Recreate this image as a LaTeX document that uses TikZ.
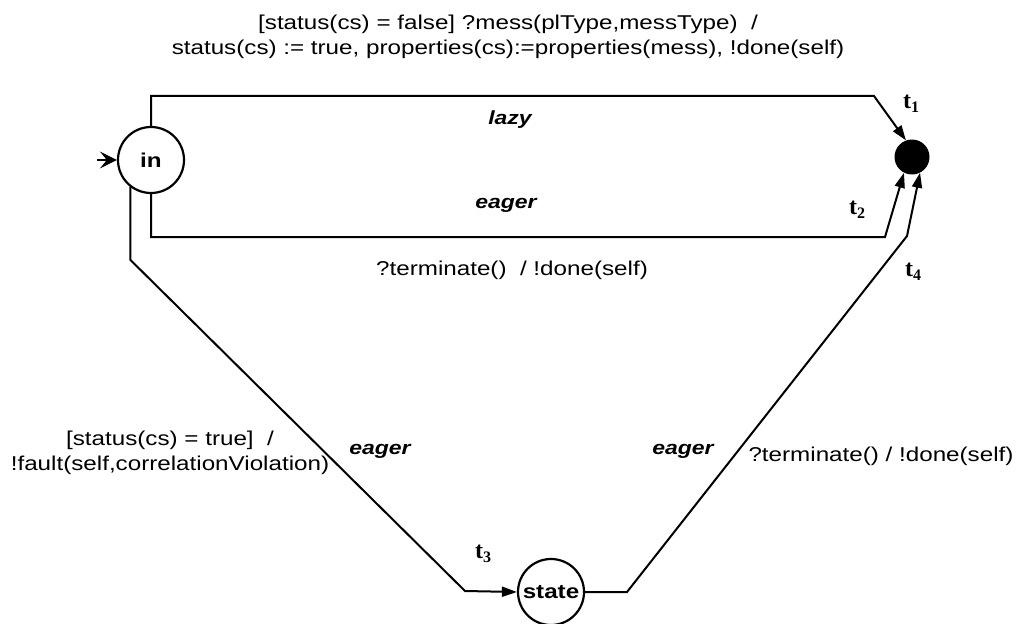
\documentclass[tikz,border=0pt]{standalone}
\usepackage{fontspec}
\setmainfont{Liberation Sans}[FakeStretch=1.21]
\newfontfamily\tfont{Liberation Serif}
\usetikzlibrary{arrows.meta}
\tikzset{
  lbl/.style={font=\fontsize{20}{25}\selectfont, inner sep=0pt, align=center},
  kind/.style={font=\fontsize{19}{23}\selectfont\bfseries\itshape, inner sep=0pt},
  tl/.style={font=\fontsize{24}{28}\selectfont\tfont\bfseries, inner sep=0pt},
  stnode/.style={circle, draw, line width=2.2pt, minimum size=66pt, inner sep=0pt, font=\fontsize{20}{24}\selectfont\bfseries},
  conn/.style={line width=2pt, line join=miter, -{Triangle[length=15pt,width=10pt]}},
}
\newcommand{\tsub}[2]{t\raisebox{-0.35ex}{\fontsize{16}{18}\selectfont #2}}
\begin{document}
\begin{tikzpicture}[x=1pt,y=-1pt]
\useasboundingbox (0,0) rectangle (1016,623);
% states
\node[stnode] (in) at (151,160) {in};
\node[circle, fill, minimum size=35pt, inner sep=0pt] (fin) at (912,157) {};
\node[stnode] (st) at (551,592) {state};
% bend points
\coordinate (entry) at (97,160);
\coordinate (b1) at (874,96);
\coordinate (b2) at (885,237);
\coordinate (y3) at (0,260);
\coordinate (c2) at (465,591);
\coordinate (d1) at (627,592);
\coordinate (d2) at (907,236);
% connectors
\draw[line width=2pt, -{Stealth[length=17pt,width=17pt,inset=7pt]}] (entry) -- (in);
\draw[conn] (in.north) |- (b1) -- (fin.110);
\draw[conn] (in.south) |- (b2) -- (fin.-117);
\draw[conn] (in.-127) -- (in.-127 |- y3) -- (c2) -- (st.west);
\draw[conn] (st.east) -- (d1) -- (d2) -- (fin.-63);
% labels
\node[lbl] (top) at (508,37) {[status(cs) = false] ?mess(plType,messType)\ \ /\\status(cs) := true, properties(cs):=properties(mess), !done(self)};
\node[kind] (lazy) at (510,120) {lazy};
\node[kind] (eag1) at (506,205) {eager};
\node[lbl] (term1) at (512,270) {?terminate()\ \ / !done(self)};
\node[kind] (eag2) at (380,451) {eager};
\node[kind] (eag3) at (683,451) {eager};
\node[lbl] (fault) at (170,453) {[status(cs) = true]\ \ /\\!fault(self,correlationViolation)};
\node[lbl] (term2) at (881,456) {?terminate() / !done(self)};
\node[tl] (t1) at (911,104) {\tsub{t}{1}};
\node[tl] (t2) at (857,210) {\tsub{t}{2}};
\node[tl] (t3) at (483,554) {\tsub{t}{3}};
\node[tl] (t4) at (913,272) {\tsub{t}{4}};
\end{tikzpicture}
\end{document}
